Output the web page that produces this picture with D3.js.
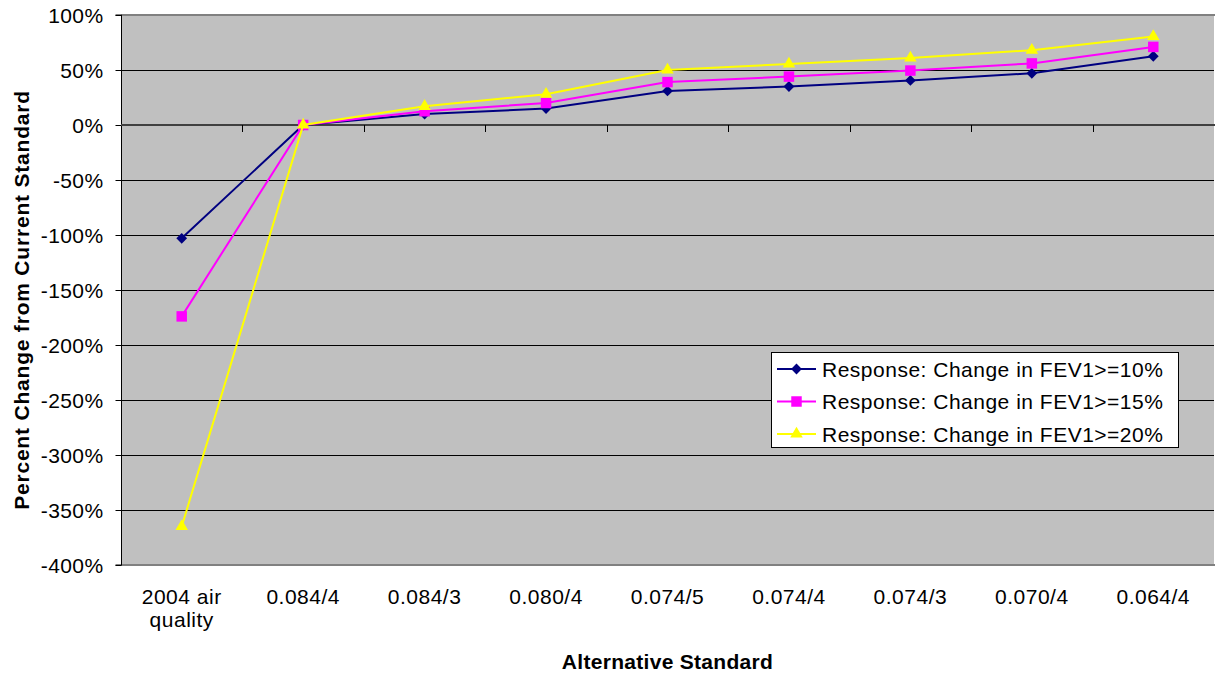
<!DOCTYPE html>
<html>
<head>
<meta charset="utf-8">
<script src="https://cdn.jsdelivr.net/npm/d3@7"></script>
<style>
    body { margin: 0; background: #ffffff; }
    svg text { font-family: "Liberation Sans", Arial, sans-serif; fill: #000000; }
</style>
</head>
<body>
<div id="chart"></div>
<script>
// Chart data
const categories = ['2004 air quality', '0.084/4', '0.084/3', '0.080/4', '0.074/5', '0.074/4', '0.074/3', '0.070/4', '0.064/4'];
const fev10 = [-103, 0, 10, 15, 31, 35, 40.5, 47, 62.5];
const fev15 = [-174, 0, 12.5, 20, 39, 44, 49.5, 56, 71];
const fev20 = [-365, 0, 17, 28, 50, 55.5, 61, 68, 80.5];
const seriesNames = ['Response: Change in FEV1>=10%', 'Response: Change in FEV1>=15%', 'Response: Change in FEV1>=20%'];
const yTicks = [100, 50, 0, -50, -100, -150, -200, -250, -300, -350, -400];

const width = 1215, height = 674;
const plot = { left: 121, right: 1214, top: 15, bottom: 565 };

const svg = d3.select('#chart')
    .append('svg')
    .attr('width', width)
    .attr('height', height);

const x = d3.scaleBand()
    .domain(categories)
    .range([plot.left, plot.right]);

const y = d3.scaleLinear()
    .domain([-400, 100])
    .range([plot.bottom, plot.top]);

// Plot background
svg.append('rect')
    .attr('x', plot.left)
    .attr('y', plot.top)
    .attr('width', plot.right - plot.left)
    .attr('height', plot.bottom - plot.top)
    .attr('fill', '#c0c0c0');

// Gridlines
svg.append('g')
    .selectAll('line')
    .data(yTicks.filter(t => t !== 100 && t !== -400 && t !== 0))
    .enter()
    .append('line')
    .attr('x1', plot.left)
    .attr('x2', plot.right)
    .attr('y1', d => y(d) + 0.5)
    .attr('y2', d => y(d) + 0.5)
    .attr('stroke', '#000000')
    .attr('stroke-width', 1);

// Top and bottom border of plot area (grey)
[100, -400].forEach(v => {
    svg.append('line')
        .attr('x1', plot.left)
        .attr('x2', plot.right + 1)
        .attr('y1', y(v))
        .attr('y2', y(v))
        .attr('stroke', '#808080')
        .attr('stroke-width', 2);
});

// Y axis (left)
const yAxis = svg.append('g')
    .attr('transform', `translate(${plot.left + 0.5},0)`)
    .call(d3.axisLeft(y).tickValues(yTicks).tickSize(6).tickPadding(12).tickFormat(d => d + '%'));
yAxis.select('.domain').attr('stroke', '#000000').attr('d', `M-6,${plot.top}H0V${plot.bottom}H-6`);
yAxis.selectAll('.tick line').attr('stroke', '#000000');
yAxis.selectAll('.tick text')
    .style('font-size', '21px')
    .style('letter-spacing', '0.4px')
    .attr('dy', '0.36em');

// X axis along 0% line
svg.append('line')
    .attr('x1', plot.left)
    .attr('x2', plot.right + 1)
    .attr('y1', y(0))
    .attr('y2', y(0))
    .attr('stroke', '#404040')
    .attr('stroke-width', 2);

svg.append('g')
    .selectAll('line')
    .data(categories.slice(1))
    .enter()
    .append('line')
    .attr('x1', d => Math.round(x(d)) + 0.5)
    .attr('x2', d => Math.round(x(d)) + 0.5)
    .attr('y1', y(0))
    .attr('y2', y(0) + 7)
    .attr('stroke', '#000000');

// Category labels below plot
const catLabels = svg.append('g')
    .selectAll('text')
    .data(categories)
    .enter()
    .append('text')
    .attr('text-anchor', 'middle')
    .style('font-size', '21px')
    .style('letter-spacing', '0.5px')
    .attr('x', d => x(d) + x.bandwidth() / 2)
    .attr('y', 604);

catLabels.each(function(d) {
    const t = d3.select(this);
    const parts = d === '2004 air quality' ? ['2004 air', 'quality'] : [d];
    parts.forEach((p, i) => {
        t.append('tspan')
            .attr('x', x(d) + x.bandwidth() / 2)
            .attr('dy', i === 0 ? 0 : 23)
            .text(p);
    });
});

// Axis titles
svg.append('text')
    .attr('x', (plot.left + plot.right) / 2)
    .attr('y', 669)
    .attr('text-anchor', 'middle')
    .style('font-size', '21px')
    .style('font-weight', 'bold')
    .style('letter-spacing', '0.3px')
    .text('Alternative Standard');

svg.append('text')
    .attr('transform', 'translate(29,300) rotate(-90)')
    .attr('text-anchor', 'middle')
    .style('font-size', '21px')
    .style('font-weight', 'bold')
    .style('letter-spacing', '0.8px')
    .text('Percent Change from Current Standard');

// Series
const series = [
    { name: seriesNames[0], values: fev10, color: '#000080', symbol: d3.symbolSquare, size: 58, rotate: 45 },
    { name: seriesNames[1], values: fev15, color: '#ff00ff', symbol: d3.symbolSquare, size: 110, rotate: 0 },
    { name: seriesNames[2], values: fev20, color: '#ffff00', symbol: d3.symbolTriangle, size: 68, rotate: 0 }
];

const line = d3.line()
    .x((d, i) => x(categories[i]) + x.bandwidth() / 2)
    .y(d => y(d));

series.forEach(s => {
    const g = svg.append('g');
    g.append('path')
        .datum(s.values)
        .attr('d', line)
        .attr('fill', 'none')
        .attr('stroke', s.color)
        .attr('stroke-width', 2);

    g.selectAll('path.marker')
        .data(s.values)
        .enter()
        .append('path')
        .attr('class', 'marker')
        .attr('d', d3.symbol(s.symbol, s.size))
        .attr('transform', (d, i) => `translate(${x(categories[i]) + x.bandwidth() / 2},${y(d)}) rotate(${s.rotate})`)
        .attr('fill', s.color);
});

// Legend
const legend = svg.append('g')
    .attr('transform', 'translate(771,352)');

legend.append('rect')
    .attr('x', 0.5)
    .attr('y', 0.5)
    .attr('width', 407)
    .attr('height', 95)
    .attr('fill', '#ffffff')
    .attr('stroke', '#000000');

series.forEach((s, i) => {
    const item = legend.append('g')
        .attr('transform', `translate(0, ${17 + i * 32.5})`);

    item.append('line')
        .attr('x1', 6)
        .attr('x2', 45)
        .attr('stroke', s.color)
        .attr('stroke-width', 2);

    item.append('path')
        .attr('d', d3.symbol(s.symbol, s.size))
        .attr('transform', `translate(25.5,0) rotate(${s.rotate})`)
        .attr('fill', s.color);

    item.append('text')
        .attr('x', 51)
        .attr('dy', '0.36em')
        .style('font-size', '21px')
        .style('letter-spacing', '0.5px')
        .text(s.name);
});
</script>
</body>
</html>
